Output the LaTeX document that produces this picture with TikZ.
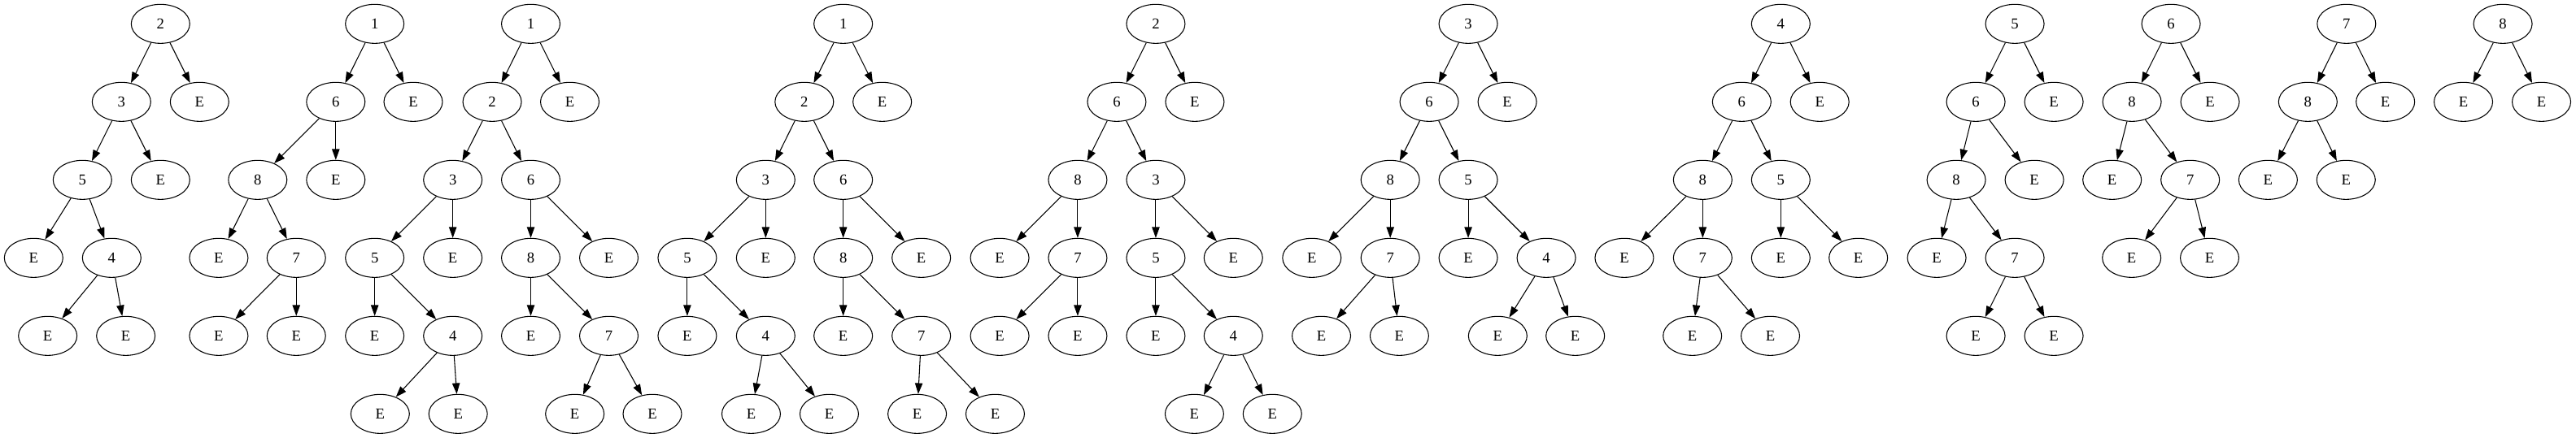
\documentclass[tikz,border=0pt]{standalone}
\usepackage{fontspec}
\setmainfont{Liberation Serif}
\usetikzlibrary{shapes.geometric,arrows.meta}

\begin{document}
\begin{tikzpicture}[x=1pt,y=1pt,
    vertex/.style={draw,ellipse,line width=.8pt,minimum width=54pt,minimum height=36pt,inner sep=0pt,font=\fontsize{14}{16}\selectfont},
    link/.style={line width=.8pt,-{Triangle[length=10pt,width=7pt]}}]
\useasboundingbox (0,0) rectangle (2375.25,-404.25);

% tree rooted at 2
\node[vertex] (a) at (148,-22) {2};
\node[vertex] (al) at (112,-94) {3};
\node[vertex] (ar) at (184,-94) {E};
\node[vertex] (all) at (76,-166) {5};
\node[vertex] (alr) at (148,-166) {E};
\node[vertex] (alll) at (31,-238) {E};
\node[vertex] (allr) at (103,-238) {4};
\node[vertex] (allrl) at (44,-310) {E};
\node[vertex] (allrr) at (116,-310) {E};
\draw[link] (a) -- (al); \draw[link] (a) -- (ar);
\draw[link] (al) -- (all); \draw[link] (al) -- (alr);
\draw[link] (all) -- (alll); \draw[link] (all) -- (allr);
\draw[link] (allr) -- (allrl); \draw[link] (allr) -- (allrr);

% tree rooted at 1
\node[vertex] (b) at (345.5,-22) {1};
\node[vertex] (bl) at (309.6,-94) {6};
\node[vertex] (br) at (381,-94) {E};
\node[vertex] (bll) at (237.6,-166) {8};
\node[vertex] (blr) at (309.6,-166) {E};
\node[vertex] (blll) at (201.7,-238) {E};
\node[vertex] (bllr) at (273.2,-238) {7};
\node[vertex] (bllrl) at (201.7,-310) {E};
\node[vertex] (bllrr) at (273.2,-310) {E};
\draw[link] (b) -- (bl); \draw[link] (b) -- (br);
\draw[link] (bl) -- (bll); \draw[link] (bl) -- (blr);
\draw[link] (bll) -- (blll); \draw[link] (bll) -- (bllr);
\draw[link] (bllr) -- (bllrl); \draw[link] (bllr) -- (bllrr);

% tree rooted at 1, with 2
\node[vertex] (c) at (489.4,-22) {1};
\node[vertex] (cl) at (453.8,-94) {2};
\node[vertex] (cr) at (525.4,-94) {E};
\node[vertex] (cll) at (417.5,-166) {3};
\node[vertex] (clr) at (489.4,-166) {6};
\node[vertex] (clll) at (345.5,-238) {5};
\node[vertex] (cllr) at (417.5,-238) {E};
\node[vertex] (clrl) at (489.4,-238) {8};
\node[vertex] (clrr) at (561.4,-238) {E};
\node[vertex] (cllll) at (345.5,-310) {E};
\node[vertex] (clllr) at (417.5,-310) {4};
\node[vertex] (clrll) at (489.4,-310) {E};
\node[vertex] (clrlr) at (561.4,-310) {7};
\node[vertex] (clllrl) at (350.5,-382) {E};
\node[vertex] (clllrr) at (422.4,-382) {E};
\node[vertex] (clrlrl) at (530,-382) {E};
\node[vertex] (clrlrr) at (601.5,-382) {E};
\draw[link] (c) -- (cl); \draw[link] (c) -- (cr);
\draw[link] (cl) -- (cll); \draw[link] (cl) -- (clr);
\draw[link] (cll) -- (clll); \draw[link] (cll) -- (cllr);
\draw[link] (clr) -- (clrl); \draw[link] (clr) -- (clrr);
\draw[link] (clll) -- (cllll); \draw[link] (clll) -- (clllr);
\draw[link] (clrl) -- (clrll); \draw[link] (clrl) -- (clrlr);
\draw[link] (clllr) -- (clllrl); \draw[link] (clllr) -- (clllrr);
\draw[link] (clrlr) -- (clrlrl); \draw[link] (clrlr) -- (clrlrr);

% tree rooted at 1, again
\node[vertex] (d) at (777.5,-22) {1};
\node[vertex] (dl) at (741.6,-94) {2};
\node[vertex] (dr) at (813.5,-94) {E};
\node[vertex] (dll) at (706,-166) {3};
\node[vertex] (dlr) at (777.5,-166) {6};
\node[vertex] (dlll) at (633.7,-238) {5};
\node[vertex] (dllr) at (706,-238) {E};
\node[vertex] (dlrl) at (777.5,-238) {8};
\node[vertex] (dlrr) at (849.5,-238) {E};
\node[vertex] (dllll) at (633.7,-310) {E};
\node[vertex] (dlllr) at (706,-310) {4};
\node[vertex] (dlrll) at (777.5,-310) {E};
\node[vertex] (dlrlr) at (849.5,-310) {7};
\node[vertex] (dlllrl) at (692.6,-382) {E};
\node[vertex] (dlllrr) at (764.6,-382) {E};
\node[vertex] (dlrlrl) at (845.7,-382) {E};
\node[vertex] (dlrlrr) at (917.6,-382) {E};
\draw[link] (d) -- (dl); \draw[link] (d) -- (dr);
\draw[link] (dl) -- (dll); \draw[link] (dl) -- (dlr);
\draw[link] (dll) -- (dlll); \draw[link] (dll) -- (dllr);
\draw[link] (dlr) -- (dlrl); \draw[link] (dlr) -- (dlrr);
\draw[link] (dlll) -- (dllll); \draw[link] (dlll) -- (dlllr);
\draw[link] (dlrl) -- (dlrll); \draw[link] (dlrl) -- (dlrlr);
\draw[link] (dlllr) -- (dlllrl); \draw[link] (dlllr) -- (dlllrr);
\draw[link] (dlrlr) -- (dlrlrl); \draw[link] (dlrlr) -- (dlrlrr);

% tree rooted at 2, with 6
\node[vertex] (e) at (1065.7,-22) {2};
\node[vertex] (el) at (1029.7,-94) {6};
\node[vertex] (er) at (1101.7,-94) {E};
\node[vertex] (ell) at (993.7,-166) {8};
\node[vertex] (elr) at (1065.7,-166) {3};
\node[vertex] (elll) at (921.8,-238) {E};
\node[vertex] (ellr) at (993.7,-238) {7};
\node[vertex] (elrl) at (1065.7,-238) {5};
\node[vertex] (elrr) at (1137.2,-238) {E};
\node[vertex] (ellrl) at (921.8,-310) {E};
\node[vertex] (ellrr) at (993.7,-310) {E};
\node[vertex] (elrll) at (1065.7,-310) {E};
\node[vertex] (elrlr) at (1137.2,-310) {4};
\node[vertex] (elrlrl) at (1101.3,-382) {E};
\node[vertex] (elrlrr) at (1173.2,-382) {E};
\draw[link] (e) -- (el); \draw[link] (e) -- (er);
\draw[link] (el) -- (ell); \draw[link] (el) -- (elr);
\draw[link] (ell) -- (elll); \draw[link] (ell) -- (ellr);
\draw[link] (elr) -- (elrl); \draw[link] (elr) -- (elrr);
\draw[link] (ellr) -- (ellrl); \draw[link] (ellr) -- (ellrr);
\draw[link] (elrl) -- (elrll); \draw[link] (elrl) -- (elrlr);
\draw[link] (elrlr) -- (elrlrl); \draw[link] (elrlr) -- (elrlrr);

% tree rooted at 3
\node[vertex] (f) at (1353.8,-22) {3};
\node[vertex] (fl) at (1317.8,-94) {6};
\node[vertex] (fr) at (1389.8,-94) {E};
\node[vertex] (fll) at (1281.9,-166) {8};
\node[vertex] (flr) at (1353.8,-166) {5};
\node[vertex] (flll) at (1209.6,-238) {E};
\node[vertex] (fllr) at (1281.9,-238) {7};
\node[vertex] (flrl) at (1353.8,-238) {E};
\node[vertex] (flrr) at (1425.8,-238) {4};
\node[vertex] (fllrl) at (1218.4,-310) {E};
\node[vertex] (fllrr) at (1290.3,-310) {E};
\node[vertex] (flrrl) at (1381,-310) {E};
\node[vertex] (flrrr) at (1452.5,-310) {E};
\draw[link] (f) -- (fl); \draw[link] (f) -- (fr);
\draw[link] (fl) -- (fll); \draw[link] (fl) -- (flr);
\draw[link] (fll) -- (flll); \draw[link] (fll) -- (fllr);
\draw[link] (flr) -- (flrl); \draw[link] (flr) -- (flrr);
\draw[link] (fllr) -- (fllrl); \draw[link] (fllr) -- (fllrr);
\draw[link] (flrr) -- (flrrl); \draw[link] (flrr) -- (flrrr);

% tree rooted at 4
\node[vertex] (g) at (1642,-22) {4};
\node[vertex] (gl) at (1606,-94) {6};
\node[vertex] (gr) at (1677.9,-94) {E};
\node[vertex] (gll) at (1570,-166) {8};
\node[vertex] (glr) at (1642,-166) {5};
\node[vertex] (glll) at (1497.7,-238) {E};
\node[vertex] (gllr) at (1570,-238) {7};
\node[vertex] (glrl) at (1642,-238) {E};
\node[vertex] (glrr) at (1713.5,-238) {E};
\node[vertex] (gllrl) at (1560.5,-310) {E};
\node[vertex] (gllrr) at (1632.4,-310) {E};
\draw[link] (g) -- (gl); \draw[link] (g) -- (gr);
\draw[link] (gl) -- (gll); \draw[link] (gl) -- (glr);
\draw[link] (gll) -- (glll); \draw[link] (gll) -- (gllr);
\draw[link] (glr) -- (glrl); \draw[link] (glr) -- (glrr);
\draw[link] (gllr) -- (gllrl); \draw[link] (gllr) -- (gllrr);

% tree rooted at 5
\node[vertex] (h) at (1857.8,-22) {5};
\node[vertex] (hl) at (1821.8,-94) {6};
\node[vertex] (hr) at (1893.8,-94) {E};
\node[vertex] (hll) at (1803.8,-166) {8};
\node[vertex] (hlr) at (1875.8,-166) {E};
\node[vertex] (hlll) at (1785.8,-238) {E};
\node[vertex] (hllr) at (1857.8,-238) {7};
\node[vertex] (hllrl) at (1821.8,-310) {E};
\node[vertex] (hllrr) at (1893.8,-310) {E};
\draw[link] (h) -- (hl); \draw[link] (h) -- (hr);
\draw[link] (hl) -- (hll); \draw[link] (hl) -- (hlr);
\draw[link] (hll) -- (hlll); \draw[link] (hll) -- (hllr);
\draw[link] (hllr) -- (hllrl); \draw[link] (hllr) -- (hllrr);

% tree rooted at 6
\node[vertex] (i) at (2001.8,-22) {6};
\node[vertex] (il) at (1965.8,-94) {8};
\node[vertex] (ir) at (2037.8,-94) {E};
\node[vertex] (ill) at (1947.5,-166) {E};
\node[vertex] (ilr) at (2019.5,-166) {7};
\node[vertex] (ilrl) at (1965.5,-238) {E};
\node[vertex] (ilrr) at (2037.4,-238) {E};
\draw[link] (i) -- (il); \draw[link] (i) -- (ir);
\draw[link] (il) -- (ill); \draw[link] (il) -- (ilr);
\draw[link] (ilr) -- (ilrl); \draw[link] (ilr) -- (ilrr);

% tree rooted at 7
\node[vertex] (j) at (2163.6,-22) {7};
\node[vertex] (jl) at (2128,-94) {8};
\node[vertex] (jr) at (2199.5,-94) {E};
\node[vertex] (jll) at (2091.3,-166) {E};
\node[vertex] (jlr) at (2163.2,-166) {E};
\draw[link] (j) -- (jl); \draw[link] (j) -- (jr);
\draw[link] (jl) -- (jll); \draw[link] (jl) -- (jlr);

% tree rooted at 8
\node[vertex] (k) at (2307.8,-22) {8};
\node[vertex] (kl) at (2271.4,-94) {E};
\node[vertex] (kr) at (2343.4,-94) {E};
\draw[link] (k) -- (kl); \draw[link] (k) -- (kr);
\end{tikzpicture}
\end{document}
